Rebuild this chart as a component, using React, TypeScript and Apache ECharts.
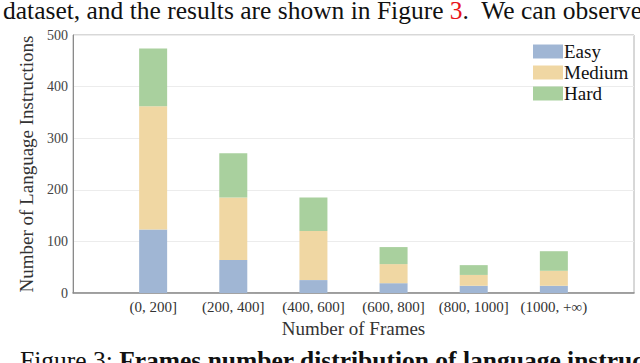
import React, { useEffect, useRef } from "react";
import * as echarts from "echarts";

const categories = ["(0, 200]", "(200, 400]", "(400, 600]", "(600, 800]", "(800, 1000]", "(1000, +∞)"];
const easy = [123, 64, 25, 19, 14, 14];
const medium = [239, 121, 95, 37, 21, 29];
const hard = [112, 86, 65, 33, 19, 38];
const seriesNames = ["Easy", "Medium", "Hard"];
const colors = ["#a0b6d4", "#f0d7a3", "#a9d09e"];
const yTicks = { min: 0, max: 500, interval: 100 };

const SERIF = "'Liberation Serif', 'Times New Roman', serif";

export default function App() {
  const ref = useRef<HTMLDivElement>(null);
  useEffect(() => {
    if (!ref.current) return;
    const chart = echarts.init(ref.current, null, { renderer: "svg" });
    // pad with empty slots on both ends so the bars sit on ticks like the reference
    const axisCats = ["", ...categories, ""];
    const pad = (arr: number[]) => ["-", ...arr, "-"];
    const seriesData = [easy, medium, hard];
    chart.setOption({
      animation: false,
      backgroundColor: "#ffffff",
      grid: {
        left: 73,
        right: 6,
        top: 35,
        bottom: 70,
        show: true,
        borderColor: "#b0b0b0",
        borderWidth: 1,
        backgroundColor: "transparent",
      },
      legend: {
        orient: "vertical",
        left: 533,
        top: 42,
        padding: 0,
        itemWidth: 30,
        itemHeight: 14,
        itemGap: 2,
        icon: "rect",
        data: seriesNames,
        textStyle: {
          fontFamily: SERIF,
          fontSize: 19,
          color: "#111",
          lineHeight: 19,
          padding: [0, 0, 0, -4],
        },
      },
      xAxis: {
        type: "category",
        data: axisCats,
        boundaryGap: false,
        name: "Number of Frames",
        nameLocation: "middle",
        nameGap: 23,
        nameTextStyle: { fontFamily: SERIF, fontSize: 19, color: "#333" },
        axisLine: { show: true, lineStyle: { color: "#8a8a8a", width: 1.5 } },
        axisTick: { show: false },
        splitLine: { show: false },
        axisLabel: {
          fontFamily: SERIF,
          fontSize: 15,
          color: "#333",
          margin: 6,
          interval: 0,
        },
      },
      yAxis: {
        type: "value",
        min: yTicks.min,
        max: yTicks.max,
        interval: yTicks.interval,
        name: "Number of Language Instructions",
        nameLocation: "middle",
        nameGap: 26,
        nameTextStyle: { fontFamily: SERIF, fontSize: 19, color: "#333" },
        axisLine: { show: true, lineStyle: { color: "#8a8a8a", width: 1 } },
        axisTick: { show: false },
        splitLine: { show: true, lineStyle: { color: "#ececec", width: 1 } },
        axisLabel: { fontFamily: SERIF, fontSize: 14, color: "#444", margin: 5 },
      },
      series: seriesNames.map((name, k) => ({
        name,
        type: "bar",
        stack: "total",
        barWidth: 28,
        data: pad(seriesData[k]),
        itemStyle: { color: colors[k] },
      })),
      graphic: [
        {
          type: "text",
          left: 3,
          top: -3,
          style: {
            text: "{n|dataset, and the results are shown in Figure }{r|3}{n|.  We can observe}",
            rich: {
              n: { fontFamily: SERIF, fontSize: 25.5, fill: "#111" },
              r: { fontFamily: SERIF, fontSize: 25.5, fill: "#e8141c" },
            },
          },
        },
        {
          type: "text",
          left: 20,
          top: 347,
          style: {
            text: "{n|Figure 3: }{b|Frames number distribution of language instructions}",
            rich: {
              n: { fontFamily: SERIF, fontSize: 25.5, fill: "#111" },
              b: { fontFamily: SERIF, fontSize: 25.5, fontWeight: "bold", fill: "#111" },
            },
          },
        },
      ],
    });
    return () => chart.dispose();
  }, []);
  return (
    <div
      ref={ref}
      style={{ position: "absolute", left: 0, top: 0, width: 640, height: 363, background: "#fff" }}
    />
  );
}
